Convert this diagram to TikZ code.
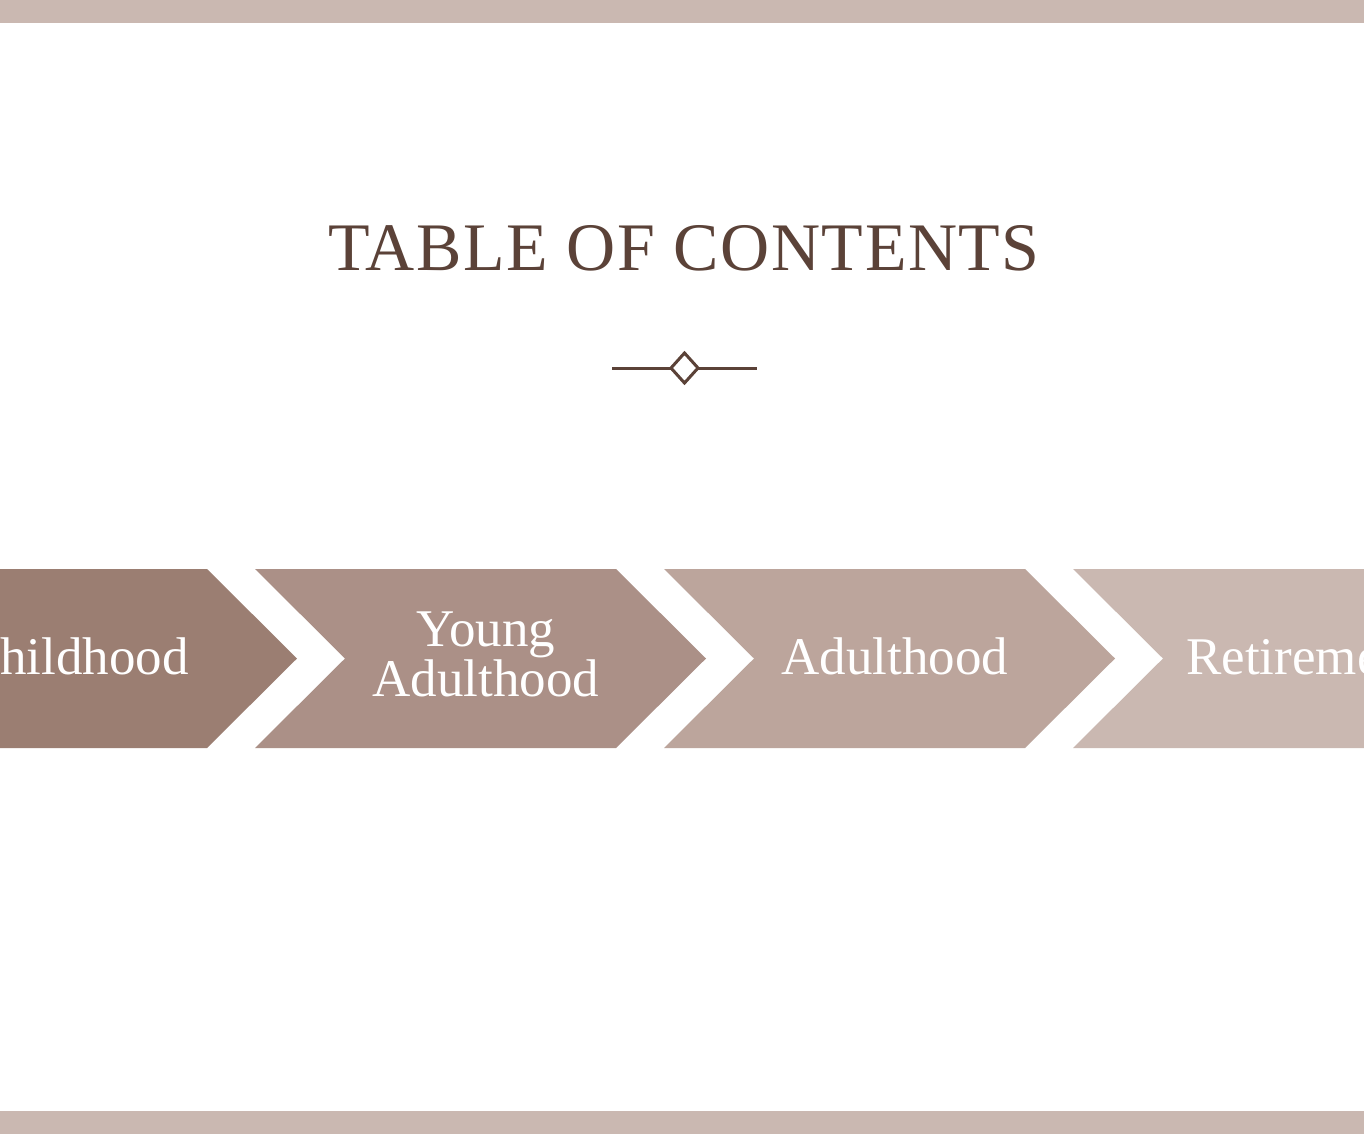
\documentclass[tikz,border=0pt]{standalone}
\usepackage{fontspec}
\setmainfont{Liberation Serif}
\newfontfamily\titlefont[LetterSpace=2.3]{Liberation Serif}
\definecolor{barcol}{HTML}{CAB8B1}
\definecolor{chevA}{HTML}{9B7E72}
\definecolor{chevB}{HTML}{AB9087}
\definecolor{chevC}{HTML}{BCA59C}
\definecolor{chevD}{HTML}{CAB8B1}
\definecolor{titlecol}{HTML}{5B4238}
\begin{document}
\begin{tikzpicture}[x=1pt,y=-1pt,
  chevlabel/.style={text=white,font=\fontsize{53}{47}\selectfont,align=center,anchor=base,inner sep=0pt},
  divider/.style={draw=titlecol,line width=3pt}]
\useasboundingbox (0,0) rectangle (1364,1134);
\clip (0,0) rectangle (1364,1134);
\fill[white] (0,0) rectangle (1364,1134);
% bars
\fill[barcol] (0,0) rectangle (1364,23);
\fill[barcol] (0,1111) rectangle (1364,1134);
% title
\node[titlecol,font=\titlefont\fontsize{68}{80}\selectfont,anchor=base,inner sep=0pt] (title) at (684,270) {TABLE OF CONTENTS};
% divider
\coordinate (dl) at (612,368);
\coordinate (dr) at (757,368);
\coordinate (dw) at (671,368);
\coordinate (de) at (698,368);
\coordinate (dn) at (684.5,353);
\coordinate (ds) at (684.5,383);
\draw[divider] (dl) -- (dw);
\draw[divider] (de) -- (dr);
\draw[divider,fill=white,line join=miter] (dn) -- (de) -- (ds) -- (dw) -- cycle;
% chevrons
\foreach \L/\col in {-154/chevA,255/chevB,664/chevC,1073/chevD}{
  \fill[\col] (\L,569) -- ({\L+361},569) -- ({\L+451},658.5) -- ({\L+361},748) -- (\L,748) -- ({\L+90},658.5) -- cycle;
}
\node[chevlabel] (c1) at (77,674) {Childhood};
\node[chevlabel] (c2) at (486,696) {Young\\Adulthood};
\node[chevlabel] (c3) at (895,674) {Adulthood};
\node[chevlabel] (c4) at (1304,674) {Retirement};
\end{tikzpicture}
\end{document}
